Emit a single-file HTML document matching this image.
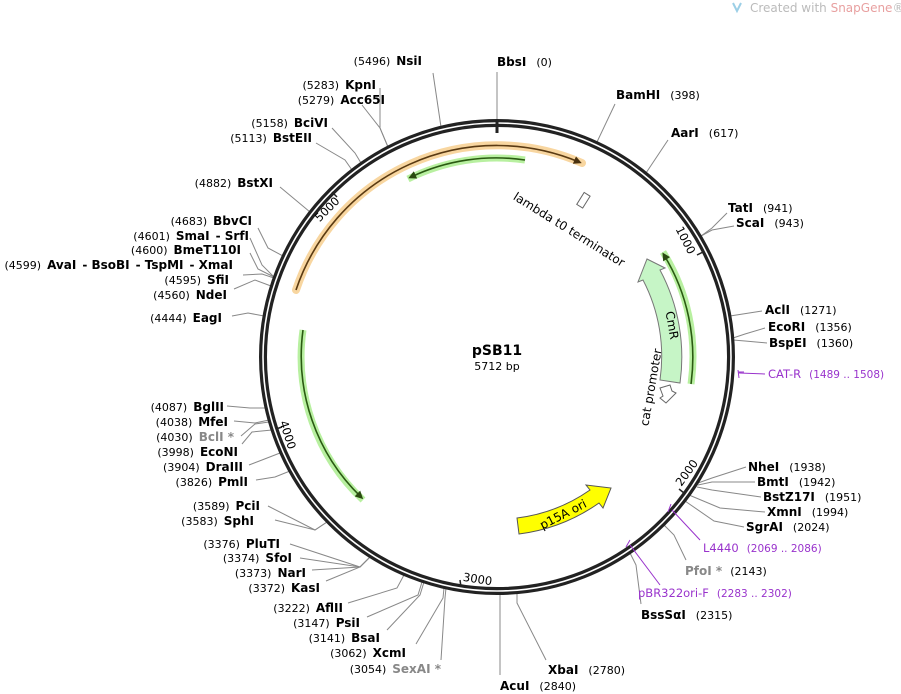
<!DOCTYPE html>
<html><head><meta charset="utf-8"><style>
html,body{margin:0;padding:0;background:#fff;}
svg{display:block;font-family:"DejaVu Sans","Liberation Sans",sans-serif;}
.n{font-size:12px;font-weight:bold;fill:#000;}
.p{font-size:11px;font-weight:normal;fill:#000;}
.g{fill:#888;}
.l{stroke:#888;stroke-width:1;fill:none;}
.pl{stroke:#9933cc;stroke-width:1;fill:none;}
.pu{fill:#9933cc;font-size:11.5px;}
</style></head><body>
<svg width="901" height="694" viewBox="0 0 901 694" xmlns="http://www.w3.org/2000/svg">
<defs>
<marker id="ah" markerWidth="8" markerHeight="8" refX="5" refY="4" orient="auto" markerUnits="userSpaceOnUse"><path d="M0,0 L8,4 L0,8 Z" fill="#2a4a10"/></marker>
<marker id="ao" markerWidth="8" markerHeight="8" refX="5" refY="4" orient="auto" markerUnits="userSpaceOnUse"><path d="M0,0 L8,4 L0,8 Z" fill="#4a3210"/></marker>
</defs>
<text x="750" y="12" font-size="12" fill="#bbb">Created with <tspan fill="#e8a0a0">SnapGene</tspan>®</text>
<path d="M733,3 l4,8 l4,-8" stroke="#9ccfe6" stroke-width="2" fill="none"/>

<!-- leader lines -->
<g class="l">
<polyline points="497,120 497,72"/>
<polyline points="597,142 615,104"/>
<polyline points="646,173 668,140"/>
<polyline points="701,236 712,228 727,213"/>
<polyline points="701,236 712,230 734,226"/>
<polyline points="730,316 762,311"/>
<polyline points="733,338 745,334 765,328"/>
<polyline points="733,340 745,341 767,343"/>
<polyline points="698,483 712,478 746,467"/>
<polyline points="698,485 712,482 755,482"/>
<polyline points="697,487 712,490 761,497"/>
<polyline points="689,495 720,508 765,512"/>
<polyline points="685,501 714,521 744,527"/>
<polyline points="664,525 674,535 686,560"/>
<polyline points="630,553 636,565 641,604"/>
<polyline points="517,593 517,603 546,660"/>
<polyline points="500,594 500,675"/>
<polyline points="446,588 445,598 441,660"/>
<polyline points="444,588 443,598 416,644"/>
<polyline points="424,582 420,595 387,630"/>
<polyline points="422,582 418,595 367,617"/>
<polyline points="404,575 397,588 348,603"/>
<polyline points="370,557 360,567 326,581"/>
<polyline points="370,557 360,567 312,570"/>
<polyline points="370,557 360,567 300,558"/>
<polyline points="370,557 360,567 290,544"/>
<polyline points="327,522 315,530 275,520"/>
<polyline points="327,522 315,530 268,506"/>
<polyline points="290,471 275,477 256,480"/>
<polyline points="280,453 262,460 249,465"/>
<polyline points="272,430 252,432 242,444"/>
<polyline points="269,422 255,424 241,436"/>
<polyline points="269,420 255,423 234,421"/>
<polyline points="265,408 250,408 227,406"/>
<polyline points="264,316 248,313 232,316"/>
<polyline points="271,286 255,280 234,289"/>
<polyline points="274,278 262,274 243,275"/>
<polyline points="274,277 258,269 250,253"/>
<polyline points="274,277 262,265 250,238"/>
<polyline points="283,256 268,248 258,228"/>
<polyline points="310,212 280,187"/>
<polyline points="352,170 345,160 316,143"/>
<polyline points="361,163 355,153 332,128"/>
<polyline points="388,147 380,128 362,105"/>
<polyline points="388,147 380,128 380,88"/>
<polyline points="441,127 433,73"/>
</g>

<!-- backbone -->
<circle cx="497" cy="357" r="234" fill="none" stroke="#222" stroke-width="8"/>
<circle cx="497" cy="357" r="234" fill="none" stroke="#fff" stroke-width="1.6"/>
<line x1="497" y1="120" x2="497" y2="133" stroke="#222" stroke-width="3"/>

<!-- ticks -->
<g stroke="#222" stroke-width="1.5">
<line x1="703" y1="252" x2="697" y2="255"/>
<line x1="684" y1="493" x2="679" y2="489"/>
<line x1="461" y1="587" x2="460" y2="580"/>
<line x1="276" y1="429" x2="282" y2="427"/>
<line x1="332" y1="192" x2="337" y2="197"/>
</g>
<g font-size="11.5" fill="#000">
<text transform="translate(682,242) rotate(63)" text-anchor="middle">1000</text>
<text transform="translate(690,475) rotate(-54)" text-anchor="middle">2000</text>
<text transform="translate(477,583) rotate(9)" text-anchor="middle">3000</text>
<text transform="translate(284,436) rotate(72)" text-anchor="middle">4000</text>
<text transform="translate(330,212) rotate(-45)" text-anchor="middle">5000</text>
</g>

<!-- orange -->
<path d="M296,290 A212,212 0 0 1 582,163" fill="none" stroke="#f8d6a0" stroke-width="8" stroke-linecap="round"/>
<path d="M296,290 A212,212 0 0 1 579,162" fill="none" stroke="#5a3a12" stroke-width="1.6" marker-end="url(#ao)"/>
<!-- greens -->
<g fill="none">
<path d="M525,160 A199,199 0 0 0 408,179" stroke="#b8f0a0" stroke-width="7"/>
<path d="M525,160 A199,199 0 0 0 411,177" stroke="#2a5a12" stroke-width="1.6" marker-end="url(#ah)"/>
<path d="M303,330 A196,196 0 0 0 363,500" stroke="#b8f0a0" stroke-width="7"/>
<path d="M303,330 A196,196 0 0 0 361,497" stroke="#2a5a12" stroke-width="1.6" marker-end="url(#ah)"/>
<path d="M691,384 A196,196 0 0 0 663,252" stroke="#b8f0a0" stroke-width="7"/>
<path d="M691,384 A196,196 0 0 0 664,255" stroke="#2a5a12" stroke-width="1.6" marker-end="url(#ah)"/>
</g>

<!-- CmR -->
<path d="M680,383 A185,185 0 0 0 660,270 L665,268 L647,259 L638,282 L643,280 A165,165 0 0 1 660,380 Z" fill="#c6f5c6" stroke="#777" stroke-width="1"/>
<text transform="translate(668,326) rotate(80)" text-anchor="middle" font-size="12">CmR</text>
<!-- cat promoter -->
<path d="M660,388 L670,385 L672,391 L676,393 L666,403 L660,398 L663,396 Z" fill="#fff" stroke="#666" stroke-width="1"/>
<text transform="translate(655,388) rotate(-80)" text-anchor="middle" font-size="12">cat promoter</text>
<!-- lambda -->
<rect x="580" y="193" width="7" height="14" fill="#fff" stroke="#666" transform="rotate(32 583 200)"/>
<text transform="translate(567,233) rotate(32)" text-anchor="middle" font-size="12">lambda t0 terminator</text>
<!-- p15A -->
<path d="M519,534 A178,178 0 0 0 599,503 L603,508 L611,488 L586,485 L590,490 A162,162 0 0 1 517,518 Z" fill="#ffff00" stroke="#555" stroke-width="1"/>
<text transform="translate(565,518) rotate(-27)" text-anchor="middle" font-size="12">p15A ori</text>

<!-- center -->
<text x="497" y="355" text-anchor="middle" font-size="14" font-weight="bold">pSB11</text>
<text x="497" y="370" text-anchor="middle" font-size="11">5712 bp</text>

<!-- primers -->
<g class="pl" stroke-width="1.5">
<path d="M738,370 L739,378 M738,372 L744,372"/>
<path d="M671,504 L668,512"/>
<path d="M630,540 L626,547"/>
</g>
<g class="pl">
<polyline points="672,510 700,540"/>
<polyline points="630,545 660,585"/>
<polyline points="739,373 765,374"/>
</g>

<!-- right labels -->
<text x="497" y="66" class="n">BbsI<tspan class="p" dx="10">(0)</tspan></text>
<text x="616" y="99" class="n">BamHI<tspan class="p" dx="10">(398)</tspan></text>
<text x="671" y="137" class="n">AarI<tspan class="p" dx="10">(617)</tspan></text>
<text x="728" y="212" class="n">TatI<tspan class="p" dx="10">(941)</tspan></text>
<text x="736" y="227" class="n">ScaI<tspan class="p" dx="10">(943)</tspan></text>
<text x="765" y="314" class="n">AclI<tspan class="p" dx="10">(1271)</tspan></text>
<text x="768" y="331" class="n">EcoRI<tspan class="p" dx="10">(1356)</tspan></text>
<text x="769" y="347" class="n">BspEI<tspan class="p" dx="10">(1360)</tspan></text>
<text x="768" y="378" class="pu">CAT-R<tspan font-size="10.5" dx="8">(1489 .. 1508)</tspan></text>
<text x="748" y="471" class="n">NheI<tspan class="p" dx="10">(1938)</tspan></text>
<text x="757" y="486" class="n">BmtI<tspan class="p" dx="10">(1942)</tspan></text>
<text x="763" y="501" class="n">BstZ17I<tspan class="p" dx="10">(1951)</tspan></text>
<text x="767" y="516" class="n">XmnI<tspan class="p" dx="10">(1994)</tspan></text>
<text x="746" y="531" class="n">SgrAI<tspan class="p" dx="10">(2024)</tspan></text>
<text x="703" y="552" class="pu">L4440<tspan font-size="10.5" dx="8">(2069 .. 2086)</tspan></text>
<text x="685" y="575" class="n g">PfoI *<tspan class="p" dx="8">(2143)</tspan></text>
<text x="638" y="597" class="pu">pBR322ori-F<tspan font-size="10.5" dx="8">(2283 .. 2302)</tspan></text>
<text x="641" y="619" class="n">BssSαI<tspan class="p" dx="10">(2315)</tspan></text>
<text x="548" y="674" class="n">XbaI<tspan class="p" dx="10">(2780)</tspan></text>
<text x="500" y="690" class="n">AcuI<tspan class="p" dx="10">(2840)</tspan></text>

<!-- left labels -->
<g text-anchor="end">
<text x="422" y="65" class="p">(5496)<tspan class="n" dx="6">NsiI</tspan></text>
<text x="376" y="89" class="p">(5283)<tspan class="n" dx="6">KpnI</tspan></text>
<text x="385" y="104" class="p">(5279)<tspan class="n" dx="6">Acc65I</tspan></text>
<text x="328" y="127" class="p">(5158)<tspan class="n" dx="6">BciVI</tspan></text>
<text x="312" y="142" class="p">(5113)<tspan class="n" dx="6">BstEII</tspan></text>
<text x="273" y="187" class="p">(4882)<tspan class="n" dx="6">BstXI</tspan></text>
<text x="252" y="225" class="p">(4683)<tspan class="n" dx="6">BbvCI</tspan></text>
<text x="249" y="240" class="p">(4601)<tspan class="n" dx="6">SmaI</tspan><tspan class="n" dx="6">- SrfI</tspan></text>
<text x="241" y="254" class="p">(4600)<tspan class="n" dx="6">BmeT110I</tspan></text>
<text x="233" y="269" class="p">(4599)<tspan class="n" dx="6">AvaI</tspan><tspan class="n" dx="6">- BsoBI</tspan><tspan class="n" dx="6">- TspMI</tspan><tspan class="n" dx="6">- XmaI</tspan></text>
<text x="229" y="284" class="p">(4595)<tspan class="n" dx="6">SfiI</tspan></text>
<text x="227" y="299" class="p">(4560)<tspan class="n" dx="6">NdeI</tspan></text>
<text x="222" y="322" class="p">(4444)<tspan class="n" dx="6">EagI</tspan></text>
<text x="224" y="411" class="p">(4087)<tspan class="n" dx="6">BglII</tspan></text>
<text x="228" y="426" class="p">(4038)<tspan class="n" dx="6">MfeI</tspan></text>
<text x="234" y="441" class="p">(4030)<tspan class="n g" dx="6">BclI *</tspan></text>
<text x="238" y="456" class="p">(3998)<tspan class="n" dx="6">EcoNI</tspan></text>
<text x="243" y="471" class="p">(3904)<tspan class="n" dx="6">DraIII</tspan></text>
<text x="248" y="486" class="p">(3826)<tspan class="n" dx="6">PmlI</tspan></text>
<text x="260" y="510" class="p">(3589)<tspan class="n" dx="6">PciI</tspan></text>
<text x="254" y="525" class="p">(3583)<tspan class="n" dx="6">SphI</tspan></text>
<text x="280" y="548" class="p">(3376)<tspan class="n" dx="6">PluTI</tspan></text>
<text x="292" y="562" class="p">(3374)<tspan class="n" dx="6">SfoI</tspan></text>
<text x="306" y="577" class="p">(3373)<tspan class="n" dx="6">NarI</tspan></text>
<text x="320" y="592" class="p">(3372)<tspan class="n" dx="6">KasI</tspan></text>
<text x="343" y="612" class="p">(3222)<tspan class="n" dx="6">AflII</tspan></text>
<text x="360" y="627" class="p">(3147)<tspan class="n" dx="6">PsiI</tspan></text>
<text x="380" y="642" class="p">(3141)<tspan class="n" dx="6">BsaI</tspan></text>
<text x="406" y="657" class="p">(3062)<tspan class="n" dx="6">XcmI</tspan></text>
<text x="441" y="673" class="p">(3054)<tspan class="n g" dx="6">SexAI *</tspan></text>
</g>
</svg>
</body></html>
